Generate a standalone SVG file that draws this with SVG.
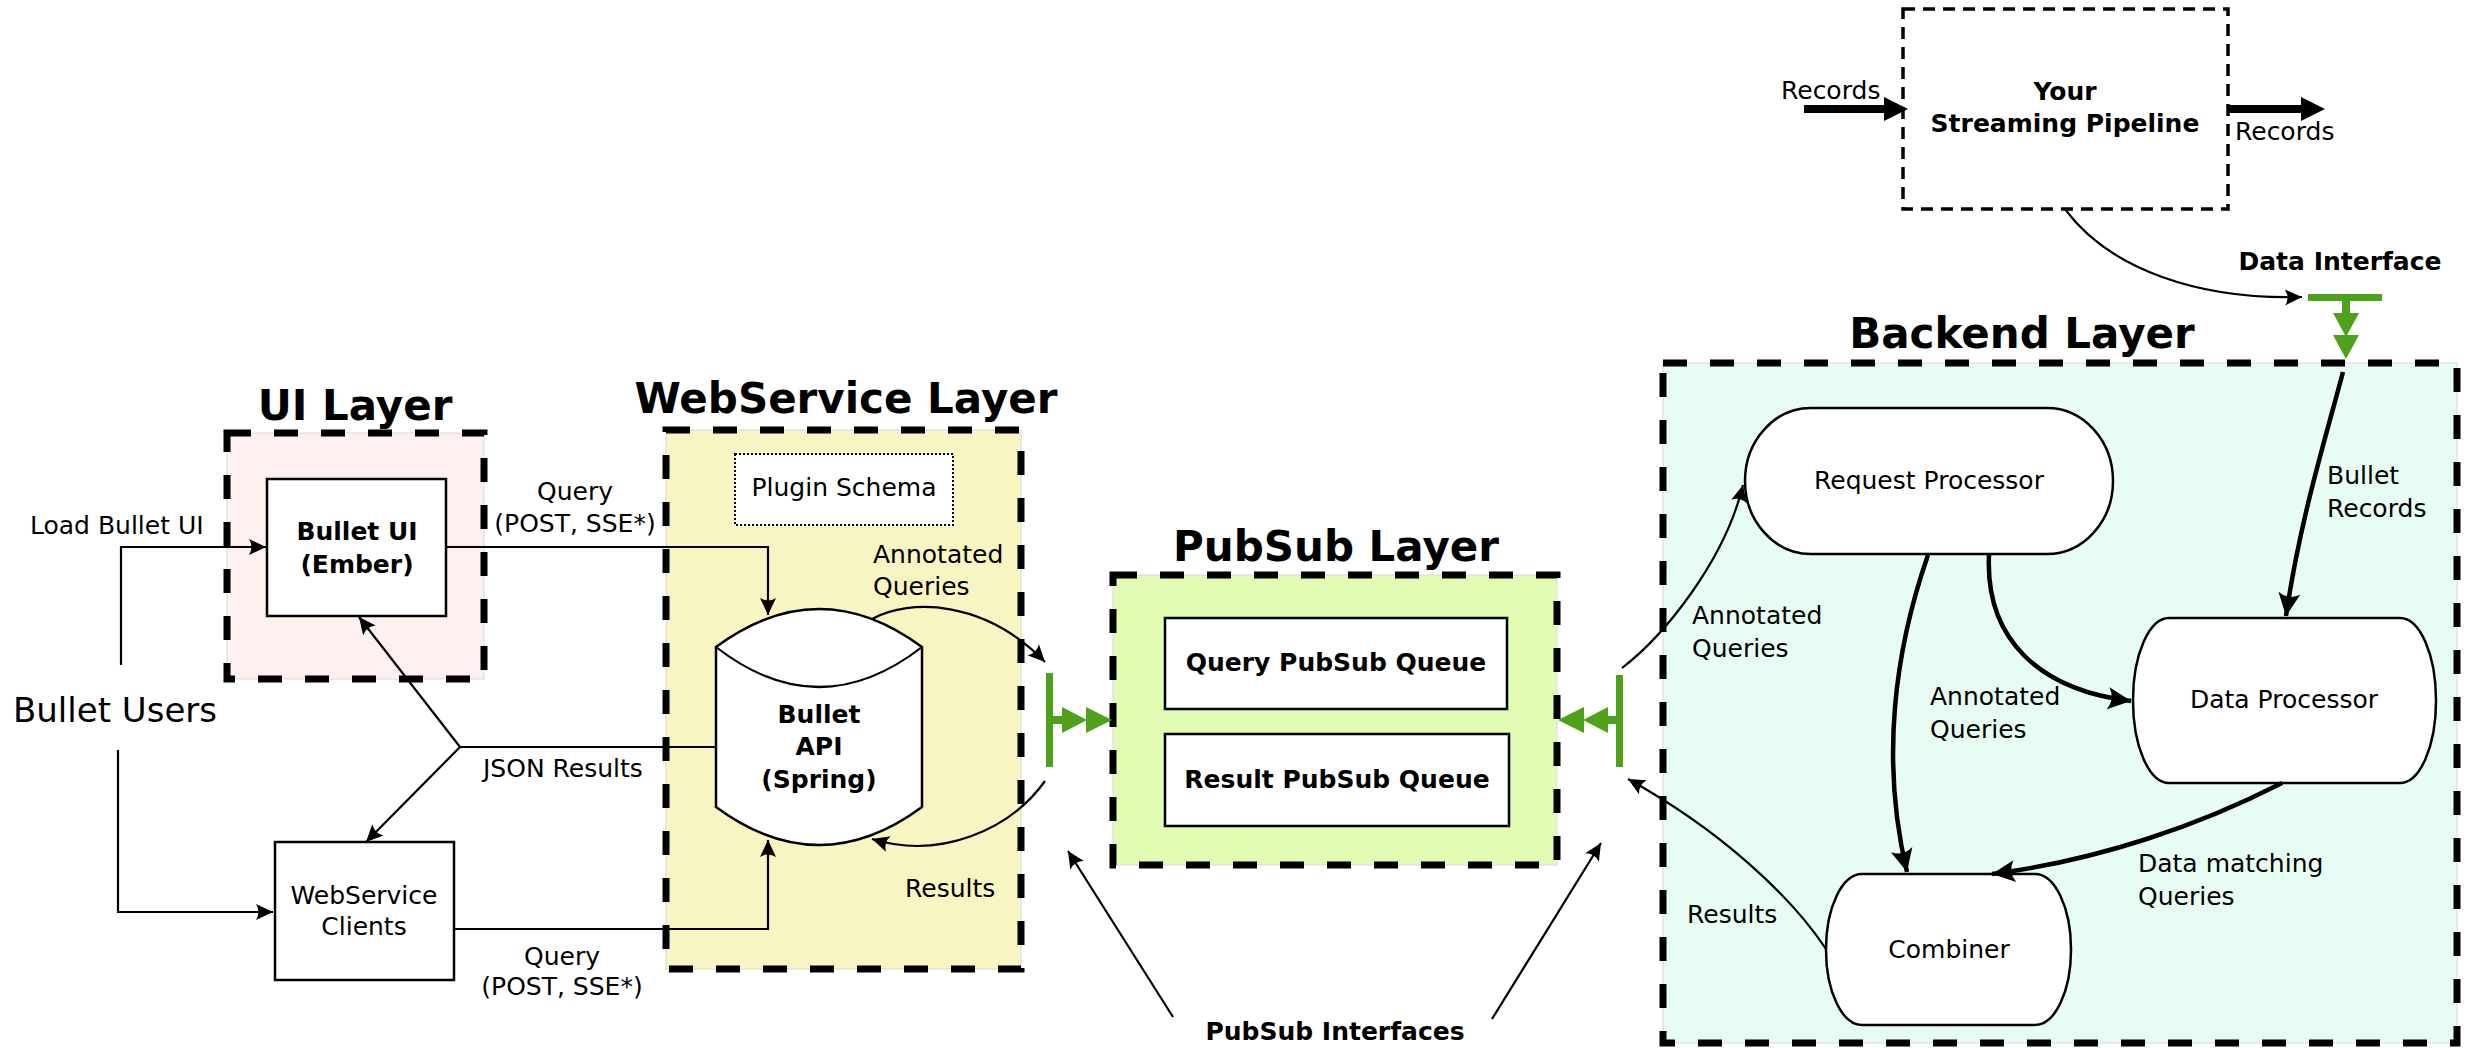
<svg xmlns="http://www.w3.org/2000/svg" width="2469" height="1048" viewBox="0 0 2469 1048">
<style>
text{font-family:"DejaVu Sans","Liberation Sans",sans-serif;font-size:25px;fill:#000}
.b{font-weight:bold}
.m{text-anchor:middle}
.title{font-size:42px;font-weight:bold;text-anchor:middle}
.lfill{stroke:#d8d8d8;stroke-width:1}
.layer{fill:none;stroke:#000;stroke-width:7;stroke-dasharray:24 23}
.box{fill:#fff;stroke:#000;stroke-width:2.5}
.ln{fill:none;stroke:#000;stroke-width:2.2}
.thick{fill:none;stroke:#000;stroke-width:4.5}
.green{fill:#4fa11b}
</style>
<defs>
<marker id="a" markerUnits="userSpaceOnUse" markerWidth="20" markerHeight="18" viewBox="-18 -9 19 18" refX="0" refY="0" orient="auto">
<path d="M0,0 L-17,-8 Q-12,0 -17,8 Z" fill="#000"/>
</marker>
<marker id="ta" markerUnits="userSpaceOnUse" markerWidth="26" markerHeight="24" viewBox="-24 -12 25 24" refX="0" refY="0" orient="auto">
<path d="M0,0 L-23,-11 Q-16,0 -23,11 Z" fill="#000"/>
</marker>
</defs>

<g id="ui-layer">
<rect class="lfill" x="227" y="433" width="257" height="246" fill="#fff0f0"/>
<rect class="layer" x="227" y="433" width="257" height="246" stroke-dasharray="26 15"/>
<text class="title" x="355" y="420">UI Layer</text>
</g>
<g id="webservice-layer">
<rect class="lfill" x="666" y="430" width="355" height="539" fill="#f7f5c1"/>
<rect class="layer" x="666" y="430" width="355" height="539"/>
<text class="title" x="846" y="413">WebService Layer</text>
</g>
<g id="pubsub-layer">
<rect class="lfill" x="1113" y="575" width="444" height="290" fill="#e1fdb3"/>
<rect class="layer" x="1113" y="575" width="444" height="290"/>
<text class="title" x="1336" y="561">PubSub Layer</text>
</g>
<g id="backend-layer">
<rect class="lfill" x="1663" y="363" width="794" height="680" fill="#e7fcf3"/>
<rect class="layer" x="1663" y="363" width="794" height="680"/>
<text class="title" x="2022" y="348">Backend Layer</text>
</g>

<g id="bullet-users">
<text class="m" x="115" y="722" style="font-size:34px">Bullet Users</text>
</g>
<g id="bullet-ui">
<rect class="box" x="267" y="479" width="179" height="137"/>
<text class="b m" x="357" y="540">Bullet UI</text>
<text class="b m" x="357" y="573">(Ember)</text>
</g>
<g id="webservice-clients">
<rect class="box" x="275" y="842" width="179" height="138"/>
<text class="m" x="364" y="904">WebService</text>
<text class="m" x="364" y="935">Clients</text>
</g>
<g id="plugin-schema">
<rect x="735" y="454" width="218" height="71" fill="#fff" stroke="#000" stroke-width="2" stroke-dasharray="2 2"/>
<text class="m" x="844" y="496">Plugin Schema</text>
</g>
<g id="bullet-api">
<path class="box" d="M716,647 Q819,571 922,647 L922,807 Q819,883 716,807 Z"/>
<path class="ln" d="M716,647 Q819,727 922,647" stroke-width="2.5"/>
<text class="b m" x="819" y="723">Bullet</text>
<text class="b m" x="819" y="755">API</text>
<text class="b m" x="819" y="788">(Spring)</text>
</g>
<g id="query-pubsub-queue">
<rect class="box" x="1165" y="618" width="342" height="91"/>
<text class="b m" x="1336" y="671">Query PubSub Queue</text>
</g>
<g id="result-pubsub-queue">
<rect class="box" x="1165" y="734" width="344" height="92"/>
<text class="b m" x="1337" y="788">Result PubSub Queue</text>
</g>
<g id="request-processor">
<rect class="box" x="1745" y="408" width="368" height="146" rx="66" ry="73"/>
<text class="m" x="1929" y="489">Request Processor</text>
</g>
<g id="data-processor">
<rect class="box" x="2133" y="618" width="303" height="165" rx="36" ry="82"/>
<text class="m" x="2284" y="708">Data Processor</text>
</g>
<g id="combiner">
<rect class="box" x="1826" y="874" width="245" height="151" rx="36" ry="75"/>
<text class="m" x="1949" y="958">Combiner</text>
</g>
<g id="streaming-pipeline">
<rect x="1903" y="9" width="325" height="200" fill="#fff" stroke="#000" stroke-width="3.5" stroke-dasharray="12 8"/>
<text class="b m" x="2065" y="100">Your</text>
<text class="b m" x="2065" y="132">Streaming Pipeline</text>
</g>
<g id="pubsub-interface-left">
<rect class="green" x="1046" y="673" width="7" height="94"/>
<rect class="green" x="1053" y="716" width="12" height="8"/>
<polygon class="green" points="1062,707 1087,720 1062,733"/>
<polygon class="green" points="1086,707 1112,720 1086,733"/>
</g>
<g id="pubsub-interface-right">
<rect class="green" x="1616" y="675" width="7" height="92"/>
<rect class="green" x="1604" y="716" width="12" height="8"/>
<polygon class="green" points="1608,707 1583,720 1608,733"/>
<polygon class="green" points="1584,707 1558,720 1584,733"/>
</g>
<g id="data-interface">
<rect class="green" x="2308" y="294" width="74" height="7"/>
<rect class="green" x="2342" y="301" width="8" height="14"/>
<polygon class="green" points="2333,313 2346,337 2359,313"/>
<polygon class="green" points="2333,335 2346,359 2359,335"/>
<text class="b m" x="2340" y="270">Data Interface</text>
</g>

<g id="connectors">
<path class="ln" d="M121,665 L121,547 L266,547" marker-end="url(#a)"/>
<path class="ln" d="M118,750 L118,912 L273,912" marker-end="url(#a)"/>
<path class="ln" d="M446,547 L768,547 L768,615" marker-end="url(#a)"/>
<path class="ln" d="M454,929 L768,929 L768,840" marker-end="url(#a)"/>
<path class="ln" d="M716,747 L460,747"/>
<path class="ln" d="M460,747 L359,617" marker-end="url(#a)"/>
<path class="ln" d="M460,747 L366,842" marker-end="url(#a)"/>
<path class="ln" d="M872,619 C910,598 985,600 1045,662" marker-end="url(#a)"/>
<path class="ln" d="M1045,781 C1010,830 940,860 872,839" marker-end="url(#a)"/>
<path class="ln" d="M1173,1017 L1068,851" marker-end="url(#a)"/>
<path class="ln" d="M1492,1019 L1601,843" marker-end="url(#a)"/>
<path class="ln" d="M1622,668 C1665,635 1725,560 1743,485" marker-end="url(#a)"/>
<path class="ln" d="M1826,949 C1790,895 1720,830 1628,779" marker-end="url(#a)"/>
<path class="thick" d="M2343,372 C2325,440 2300,520 2286,616" marker-end="url(#ta)"/>
<path class="thick" d="M1928,555 C1895,650 1880,760 1907,872" marker-end="url(#ta)"/>
<path class="thick" d="M1989,555 C1985,640 2040,690 2131,701" marker-end="url(#ta)"/>
<path class="thick" d="M2282,783 C2200,825 2100,860 1992,874" marker-end="url(#ta)"/>
<path class="ln" d="M2065,209 C2110,270 2200,300 2302,297" marker-end="url(#a)"/>
<line x1="1804" y1="109" x2="1888" y2="109" stroke="#000" stroke-width="8"/>
<polygon points="1884,97 1908,109 1884,121" fill="#000"/>
<line x1="2228" y1="109" x2="2305" y2="109" stroke="#000" stroke-width="8"/>
<polygon points="2301,97 2325,109 2301,121" fill="#000"/>
</g>

<g id="labels">
<text x="30" y="534">Load Bullet UI</text>
<text class="m" x="575" y="500">Query</text>
<text class="m" x="575" y="532">(POST, SSE*)</text>
<text x="483" y="777">JSON Results</text>
<text class="m" x="562" y="965">Query</text>
<text class="m" x="562" y="995">(POST, SSE*)</text>
<text x="873" y="563">Annotated</text>
<text x="873" y="595">Queries</text>
<text x="905" y="897">Results</text>
<text class="b m" x="1335" y="1040">PubSub Interfaces</text>
<text x="1692" y="624">Annotated</text>
<text x="1692" y="657">Queries</text>
<text x="2327" y="484">Bullet</text>
<text x="2327" y="517">Records</text>
<text x="1930" y="705">Annotated</text>
<text x="1930" y="738">Queries</text>
<text x="2138" y="872">Data matching</text>
<text x="2138" y="905">Queries</text>
<text x="1687" y="923">Results</text>
<text x="1781" y="99">Records</text>
<text x="2235" y="140">Records</text>
</g>
</svg>
